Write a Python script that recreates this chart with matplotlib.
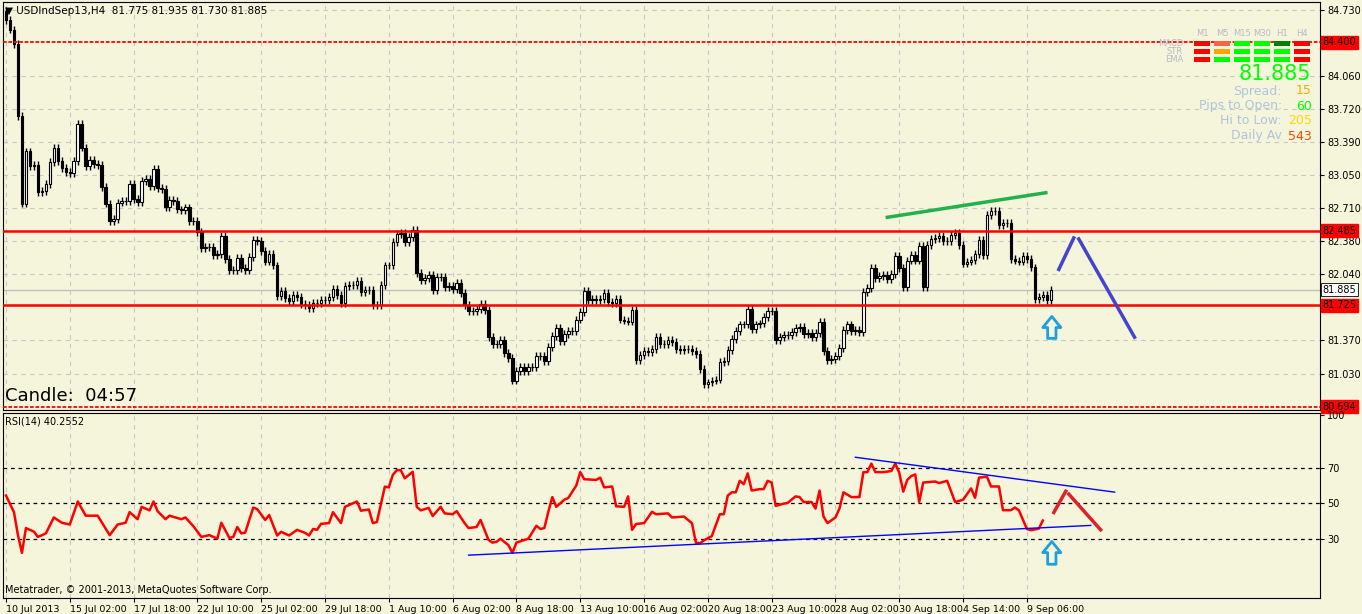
import matplotlib
matplotlib.use("Agg")
import matplotlib.pyplot as plt
import numpy as np

W, H = 1362, 614
BG = "#F5F5DC"

closes = [84.63,84.53,84.38,83.65,82.76,83.29,83.14,83.15,82.88,82.89,82.96,83.18,83.33,83.19,83.12,83.08,83.07,83.19,83.57,83.33,
83.14,83.20,83.16,83.15,82.93,82.76,82.58,82.60,82.77,82.79,82.79,82.96,82.81,82.78,82.99,83.01,82.94,83.11,82.92,82.91,
82.72,82.80,82.79,82.70,82.69,82.72,82.58,82.58,82.47,82.31,82.32,82.32,82.24,82.25,82.43,82.20,82.08,82.08,82.21,82.10,
82.08,82.22,82.39,82.38,82.28,82.17,82.25,82.13,81.82,81.87,81.80,81.77,81.83,81.81,81.74,81.73,81.70,81.75,81.75,81.78,
81.78,81.81,81.89,81.83,81.75,81.92,81.93,81.93,81.97,81.86,81.88,81.88,81.73,81.73,81.93,82.13,82.13,82.37,82.45,82.46,
82.37,82.42,82.49,82.05,81.98,82.00,82.03,81.88,82.01,82.01,81.91,81.92,81.89,81.95,81.85,81.73,81.67,81.67,81.69,81.74,
81.68,81.40,81.33,81.33,81.37,81.24,81.19,80.96,81.06,81.10,81.06,81.10,81.10,81.21,81.21,81.16,81.30,81.41,81.49,81.36,
81.43,81.46,81.46,81.58,81.66,81.87,81.78,81.79,81.78,81.79,81.85,81.76,81.75,81.79,81.58,81.57,81.56,81.68,81.17,81.22,
81.26,81.25,81.28,81.40,81.33,81.33,81.37,81.35,81.28,81.27,81.28,81.28,81.26,81.23,81.08,80.92,80.94,80.96,80.97,81.15,
81.16,81.27,81.38,81.46,81.53,81.53,81.69,81.48,81.53,81.54,81.61,81.67,81.67,81.37,81.40,81.42,81.42,81.45,81.49,81.50,
81.43,81.44,81.40,81.44,81.56,81.26,81.17,81.18,81.21,81.29,81.47,81.53,81.46,81.47,81.45,81.86,81.90,82.10,82.00,82.02,
82.03,81.99,82.04,82.23,82.10,81.91,82.18,82.24,82.18,82.33,81.91,82.34,82.40,82.41,82.43,82.38,82.38,82.44,82.46,82.34,
82.15,82.17,82.19,82.25,82.39,82.24,82.64,82.68,82.68,82.54,82.56,82.56,82.20,82.18,82.17,82.23,82.20,82.11,81.79,81.81,
81.83,81.78,81.885]
first_open = 84.72
wick = 0.04

rsi_bar = [0,2,3,4,5,7,8,10,12,14,16,18,20,23,26,28,30,31,33,34,36,37,38,40,41,44,45,47,49,51,53,54,56,57,58,59,60,62,63,65,66,68,69,71,73,75,76,77,78,79,81,82,84,85,
88,89,91,92,93,95,96,97,98,99,100,102,103,104,106,107,109,110,112,113,115,116,118,119,121,122,123,124,126,127,128,130,131,133,134,135,136,137,138,140,141,143,144,145,148,149,150,152,153,155,156,157,158,160,162,163,166,167,170,172,173,174,
175,177,179,180,181,182,183,184,185,186,187,189,190,191,192,193,195,196,198,199,200,202,203,204,205,206,208,209,210,212,214,215,216,217,218,220,222,223,224,225,226,227,228,229,230,233,234,236,238,240,242,243,244,246,247,249,250,252,253,254,256,257,259,260]
rsi_val = [54.4,45,32,22,36,34,31,33,42,39,38,51,43,43,32,38,39,45,41,48,46,51,45.6,41,43,41,42,37,31,32,30,39,30.5,31,36.6,33,33.5,47.6,46.7,40.6,43.4,31.8,33.9,31.8,35,33.3,31.8,35.5,35,38.4,38.8,45,38.8,48,
51,45.8,46.5,38.8,39.4,59.4,59,66,68.7,68.7,64.1,67.8,48,46,47.4,42.8,48,44.3,43.8,45.6,38.8,36,36.6,40.6,29.3,27.8,28.2,30,26.3,22,27.8,29.3,30,37.3,35.5,36,45.2,53.5,48,52,53,60,67.6,63.6,63.2,64.5,59,59.5,48.3,48,53.9,35,38.3,38.8,45.2,43.8,44.3,42,42.5,38.8,27.8,27.4,
29,31.5,43.8,43.8,54.4,56.2,56.2,62.7,60.8,66.9,57.2,58,58,62.7,61.7,48.5,49.8,50.2,53.9,53.5,50.7,50.7,47,57.2,42.5,38.8,42,47,56.2,53.5,53.5,67.6,67.6,72.4,67.6,67.6,68.2,72.4,67.2,56.6,63.2,65.4,66.3,50.7,61.7,62.3,61.4,62.7,50.7,52,58.4,53.1,64.5,65,59.5,59.5,46.1,46.1,47.6,46,35.5,34.8,35.7,40.2552]

xlabels = ["10 Jul 2013","15 Jul 02:00","17 Jul 18:00","22 Jul 10:00","25 Jul 02:00","29 Jul 18:00","1 Aug 10:00",
           "6 Aug 02:00","8 Aug 18:00","13 Aug 10:00","16 Aug 02:00","20 Aug 18:00","23 Aug 10:00","28 Aug 02:00",
           "30 Aug 18:00","4 Sep 14:00","9 Sep 06:00"]
price_ticks = [84.730,84.060,83.720,83.390,83.050,82.710,82.380,82.040,81.370,81.030]
levels = [84.400,82.485,81.725,80.694]
bid = 81.885

fig = plt.figure(figsize=(W/100, H/100), dpi=100, facecolor=BG)
def px2fig(x, y): return x/W, 1-y/H

ax = fig.add_axes([3/W, 1-410/H, 1317/W, 408/H], facecolor=BG)
ar = fig.add_axes([3/W, 1-598/H, 1317/W, 185/H], facecolor=BG)

n = len(closes)
idx = np.arange(n)
c = np.array(closes)
o = np.concatenate([[first_open], c[:-1]])
hi = np.maximum(o, c) + wick
lo = np.minimum(o, c) - wick
ax.vlines(idx, lo, hi, color="black", lw=1, zorder=3)
up = c >= o
ax.bar(idx[up], (c-o)[up], bottom=o[up], width=0.65, facecolor="white", edgecolor="black", lw=0.8, zorder=4)
ax.bar(idx[~up], (c-o)[~up], bottom=o[~up], width=0.65, facecolor="black", edgecolor="black", lw=0.8, zorder=4)

xt = np.arange(len(xlabels))*16
for a in (ax, ar):
    a.set_xlim(-0.75, 329.5)
    for s in a.spines.values():
        s.set_color("black")
    a.set_xticks(xt)
    a.grid(True, axis="x", color="#C8C8C8", ls=(0,(4,4)), lw=0.8)
    a.yaxis.tick_right()
    a.tick_params(axis="y", labelsize=7, length=3, pad=2)
ax.set_ylim(80.66, 84.81)
ax.set_yticks(price_ticks)
ax.set_yticklabels([f"{v:.3f}" for v in price_ticks])
ax.grid(True, axis="y", color="#C8C8C8", ls=(0,(4,4)), lw=0.8)
ax.tick_params(axis="x", labelbottom=False, length=0)
ax.axhline(bid, color="#C0C0C0", lw=1, zorder=2)
for lv in levels:
    if lv in (84.400, 80.694):
        ax.axhline(lv, color="red", lw=1.3, ls=(0,(2,1)), zorder=5)
    else:
        ax.axhline(lv, color="red", lw=1.8, zorder=5)
    ax.text(1.002, lv, f"{lv:.3f}", transform=ax.get_yaxis_transform(), va="center", ha="left",
            fontsize=7, color="black", bbox=dict(boxstyle="square,pad=0.15", fc="red", ec="red"), clip_on=False)
ax.text(1.002, bid, f"{bid:.3f}", transform=ax.get_yaxis_transform(), va="center", ha="left",
        fontsize=7, color="black", bbox=dict(boxstyle="square,pad=0.15", fc="white", ec="black", lw=0.6), clip_on=False)

# trend annotations (bar index, price)
ax.plot([221, 260.75], [82.62, 82.87], color="#22B14C", lw=2.5, zorder=6)
ax.plot([264, 267.75], [82.09, 82.41], color="#4444CC", lw=2.5, zorder=6)
ax.plot([269, 283], [82.40, 81.40], color="#4444CC", lw=2.5, zorder=6)
ax.annotate("", xy=(262.25, 81.64), xytext=(262.25, 81.36),
            arrowprops=dict(arrowstyle="simple,head_width=1.3,head_length=0.8,tail_width=0.6",
                            fc=BG, ec="#1E9FE0", lw=2), zorder=7)

ar.plot(rsi_bar, rsi_val, color="red", lw=1.8, zorder=4)
ar.set_ylim(-3.5, 101)
ar.set_yticks([100,70,50,30])
for v in (70,50,30):
    ar.axhline(v, color="black", lw=0.9, ls=(0,(3,3)), zorder=2)
ar.plot([213, 278], [76.0, 56.3], color="blue", lw=1, zorder=5)
ar.plot([116, 272], [20.7, 37.5], color="blue", lw=1, zorder=5)
ar.plot([262.75, 265.75], [44.8, 56.8], color="#E0202A", lw=2.5, zorder=5)
ar.plot([266.5, 274.5], [55.2, 35.0], color="#E0202A", lw=2.5, zorder=5)
ar.annotate("", xy=(262.25, 30), xytext=(262.25, 14),
            arrowprops=dict(arrowstyle="simple,head_width=1.3,head_length=0.8,tail_width=0.6",
                            fc=BG, ec="#1E9FE0", lw=2), zorder=7)
ar.set_xticklabels(xlabels, fontsize=6.8)
ar.tick_params(axis="x", length=3, pad=2)
for lab in ar.get_xticklabels():
    lab.set_ha("left")

# texts
fig.text(*px2fig(5, 11), "▼ USDIndSep13,H4  81.775 81.935 81.730 81.885", fontsize=7.5, va="center", ha="left")
fig.text(*px2fig(5, 396), "Candle:  04:57", fontsize=13, va="center", ha="left")
fig.text(*px2fig(5, 421), "RSI(14) 40.2552", fontsize=7, va="center", ha="left")
fig.text(*px2fig(5, 590), "Metatrader, © 2001-2013, MetaQuotes Software Corp.", fontsize=7, va="center", ha="left")

# indicator panel
cols = ["M1","M5","M15","M30","H1","H4"]
colx = [1202,1222,1242,1262,1282,1302]
rows = ["MACD","STR","EMA"]
rowy = [43,51,59]
cell_colors = [["#FF0000","#FF6347","#00FF00","#00FF00","#008000","#FF0000"],
               ["#FF0000","#FFA500","#00FF00","#00FF00","#00FF00","#FF0000"],
               ["#FF0000","#00FF00","#00FF00","#00FF00","#00FF00","#FF0000"]]
gray = "#B8B8C8"
for cx, cn in zip(colx, cols):
    fig.text(*px2fig(cx, 33), cn, fontsize=6, color=gray, ha="center", va="center")
for ry, rn, rc in zip(rowy, rows, cell_colors):
    fig.text(*px2fig(1183, ry), rn, fontsize=6, color=gray, ha="right", va="center")
    for cx, col in zip(colx, rc):
        fx, fy = px2fig(cx-8, ry+2.5)
        fig.patches.append(plt.Rectangle((fx, fy), 16/W, 5/H, transform=fig.transFigure, fc=col, ec="none"))
fig.text(*px2fig(1311, 74), "81.885", fontsize=15, color="#00FF00", ha="right", va="center")
info_labels = ["Spread:", "Pips to Open:", "Hi to Low:", "Daily Av"]
info_vals = ["15", "60", "205", "543"]
info_cols = ["#FFA500", "#00FF00", "#FFD700", "#FF4500"]
for k, (lb, vv, cc) in enumerate(zip(info_labels, info_vals, info_cols)):
    y = 91 + 15*k
    fig.text(*px2fig(1282, y), lb, fontsize=9, color="#B0C4DE", ha="right", va="center")
    fig.text(*px2fig(1312, y), vv, fontsize=9, color=cc, ha="right", va="center")

fig.savefig("out.png", dpi=100, facecolor=BG)
